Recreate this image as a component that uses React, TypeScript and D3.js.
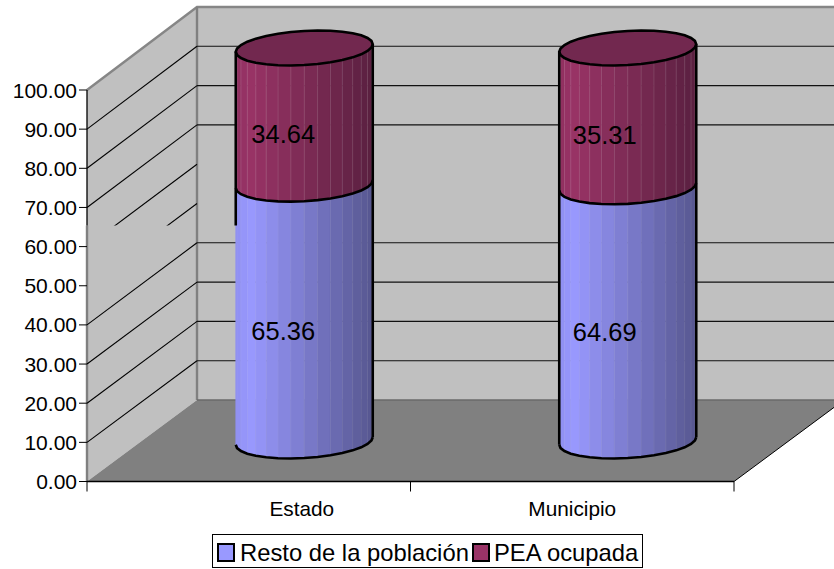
import React from 'react';
import * as d3 from 'd3';

const categories = ['Estado', 'Municipio'];
const seriesNames = ['Resto de la población', 'PEA ocupada'];
const restoValues = [65.36, 64.69];
const peaValues = [34.64, 35.31];
const yTicks = [0, 10, 20, 30, 40, 50, 60, 70, 80, 90, 100];

// 3D box of the old spreadsheet chart
const depthX = 110;
const frontLeft = 87;
const frontRight = 734;
const frontBottom = 481.5;
const frontTop = 90;
const backBottom = 400;
const backTop = 7;
const wallRight = frontRight + depthX;
const brokenY = 225.5; // the source picture loses some lines below this height
const brokenTicks = [50, 60];

const xBand = d3.scaleBand<string>().domain(categories).range([frontLeft, frontRight]);
const yFront = d3.scaleLinear().domain([0, 100]).range([frontBottom, frontTop]);
const yBack = d3.scaleLinear().domain([0, 100]).range([backBottom, backTop]);
const yBar = d3.scaleLinear().domain([0, 100]).range([441, 48]);

const barShift = 55.5;
const barWidth = 137;
const ellipseSkew = 15;
const ellipseRy = 17.5;
const ellipseRx = Math.sqrt((barWidth / 2) ** 2 - ellipseSkew ** 2);
const startAngle = Math.atan2(ellipseSkew, ellipseRx);
const facetCount = 16;
const labelShifts = [53, 0];
const valueLabelDx = [-21, -23];

const blueShade = d3.scaleLinear<string>().domain([0, 0.1, 1]).range(['#8e8ef0', '#9999ff', '#56568f']);
const maroonShade = d3.scaleLinear<string>().domain([0, 0.1, 1]).range(['#8e3060', '#993366', '#5a2040']);

const line = d3.line();

const ringPoint = (cx: number, cy: number, t: number): [number, number] => [
  cx + ellipseRx * Math.cos(t) + ellipseSkew * Math.sin(t),
  cy - ellipseRy * Math.sin(t),
];

const frontAngles = d3.range(facetCount + 1).map(i => startAngle + Math.PI + (i / facetCount) * Math.PI);
const ringAngles = d3.range(facetCount * 2).map(i => startAngle + (i / (facetCount * 2)) * Math.PI * 2);

function Segment({ cx, from, to, shade, seam }: { cx: number; from: number; to: number; shade: any; seam: number }) {
  const yTop = yBar(to);
  const yBottom = yBar(from);
  const bottomCurve = frontAngles.map(t => ringPoint(cx, yBottom, t));
  return (
    <g>
      {d3.pairs(frontAngles).map(([a, b], i) => {
        const p = [ringPoint(cx, yTop, a), ringPoint(cx, yTop, b), ringPoint(cx, yBottom, b), ringPoint(cx, yBottom, a)];
        const u = ((p[0][0] + p[1][0]) / 2 - (cx - barWidth / 2)) / barWidth;
        return <path key={i} d={line(p as [number, number][]) + 'Z'} fill={shade(u)} stroke={shade(u)} strokeWidth={0.6} />;
      })}
      {frontAngles.slice(1, -1).map((t, i) => (
        <line
          key={i}
          x1={ringPoint(cx, yTop, t)[0]}
          x2={ringPoint(cx, yTop, t)[0]}
          y1={ringPoint(cx, yTop, t)[1]}
          y2={ringPoint(cx, yBottom, t)[1]}
          stroke="#fff"
          strokeOpacity={seam}
          strokeWidth={0.8}
        />
      ))}
      <path d={line(bottomCurve) || ''} fill="none" stroke="#000" strokeWidth={2.6} />
    </g>
  );
}

function Bar({ category, index }: { category: string; index: number }) {
  const cx = (xBand(category) as number) + xBand.bandwidth() / 2 + barShift;
  const resto = restoValues[index];
  const pea = peaValues[index];
  const left = ringPoint(cx, yBar(100), frontAngles[0]);
  const leftBottom = ringPoint(cx, yBar(0), frontAngles[0]);
  const right = ringPoint(cx, yBar(100), frontAngles[facetCount]);
  const rightBottom = ringPoint(cx, yBar(0), frontAngles[facetCount]);
  const leftEnd = index === 0 ? brokenY : leftBottom[1];
  const ring = ringAngles.map(t => ringPoint(cx, yBar(100), t));
  return (
    <g>
      <Segment cx={cx} from={0} to={resto} shade={blueShade} seam={0.1} />
      <Segment cx={cx} from={resto} to={resto + pea} shade={maroonShade} seam={0.16} />
      <path d={line(ring) + 'Z'} fill="#72284f" stroke="#000" strokeWidth={2.6} />
      <line x1={left[0]} x2={left[0]} y1={left[1]} y2={leftEnd} stroke="#000" strokeWidth={2.6} />
      <line x1={right[0]} x2={right[0]} y1={right[1]} y2={rightBottom[1]} stroke="#000" strokeWidth={2.6} />
      <text x={cx + valueLabelDx[index]} y={yBar(resto / 2) + 18} fontSize={25.5} textAnchor="middle" dominantBaseline="central" fill="#000">
        {resto.toFixed(2)}
      </text>
      <text x={cx + valueLabelDx[index]} y={yBar(resto + pea / 2) + 18} fontSize={25.5} textAnchor="middle" dominantBaseline="central" fill="#000">
        {pea.toFixed(2)}
      </text>
    </g>
  );
}

export default function App() {
  const backLeft = frontLeft + depthX;
  const axisBreak = brokenY;
  return (
    <svg
      width={834}
      height={569}
      style={{ position: 'absolute', left: 0, top: 0, background: '#fff' }}
      fontFamily="'Liberation Sans', Arial, sans-serif"
    >
      <defs>
        <clipPath id="above-break">
          <rect x={0} y={0} width={834} height={brokenY} />
        </clipPath>
      </defs>

      {/* paredes y piso */}
      <rect x={backLeft} y={yBack(100)} width={wallRight - backLeft} height={backBottom - yBack(100)} fill="#c0c0c0" />
      <path
        d={line([[frontLeft, yFront(100)], [backLeft, yBack(100)], [backLeft, backBottom], [frontLeft, frontBottom]]) + 'Z'}
        fill="#c0c0c0"
      />
      <path
        d={line([[frontLeft, frontBottom], [backLeft, backBottom], [wallRight, backBottom], [frontRight, frontBottom]]) + 'Z'}
        fill="#808080"
      />
      <path
        d={line([[frontLeft, yFront(100)], [backLeft, yBack(100)], [wallRight, yBack(100)]]) || ''}
        fill="none"
        stroke="#868686"
        strokeWidth={2.4}
      />
      <line x1={backLeft} x2={backLeft} y1={yBack(100)} y2={backBottom} stroke="#808080" strokeWidth={2.4} />
      <line x1={frontLeft} x2={frontLeft} y1={axisBreak} y2={frontBottom} stroke="#808080" strokeWidth={2.4} />
      <line x1={backLeft} x2={wallRight} y1={backBottom} y2={backBottom} stroke="#6a6a6a" strokeWidth={1.5} />

      {/* rejilla */}
      {yTicks.slice(1, -1).map(t => {
        const broken = brokenTicks.includes(t);
        return (
          <g key={t}>
            <line
              x1={frontLeft}
              y1={yFront(t)}
              x2={backLeft}
              y2={yBack(t)}
              stroke="#000"
              strokeWidth={1.1}
              clipPath={broken ? 'url(#above-break)' : undefined}
            />
            {!broken && <line x1={backLeft} x2={wallRight} y1={yBack(t)} y2={yBack(t)} stroke="#111" strokeWidth={1.1} />}
          </g>
        );
      })}

      <line x1={frontRight} y1={frontBottom} x2={wallRight} y2={backBottom} stroke="#000" strokeWidth={1} />

      {/* ejes */}
      <line x1={frontLeft} x2={frontLeft} y1={yFront(100)} y2={axisBreak} stroke="#000" strokeWidth={1.3} />
      <line x1={frontLeft} x2={frontRight} y1={frontBottom} y2={frontBottom} stroke="#000" strokeWidth={1.6} />
      {yTicks.map(t => (
        <g key={t}>
          <line x1={frontLeft - 8} x2={frontLeft} y1={yFront(t)} y2={yFront(t)} stroke="#000" strokeWidth={1} />
          <text x={frontLeft - 10} y={yFront(t)} fontSize={21} textAnchor="end" dominantBaseline="central" fill="#000">
            {t.toFixed(2)}
          </text>
        </g>
      ))}
      {[frontLeft, ...categories.map(c => (xBand(c) as number) + xBand.bandwidth())].map(x => (
        <line key={x} x1={x} x2={x} y1={frontBottom} y2={frontBottom + 10} stroke="#000" strokeWidth={1} />
      ))}
      {categories.map((c, i) => (
        <text
          key={c}
          x={(xBand(c) as number) + xBand.bandwidth() / 2 + labelShifts[i]}
          y={508}
          fontSize={20.8}
          textAnchor="middle"
          dominantBaseline="central"
          fill="#000"
        >
          {c}
        </text>
      ))}

      {categories.map((c, i) => (
        <Bar key={c} category={c} index={i} />
      ))}

      {/* leyenda */}
      <rect x={212.5} y={534.5} width={430} height={33} fill="#fff" stroke="#000" strokeWidth={1} />
      <rect x={218} y={544} width={16} height={17} fill="#9999ff" stroke="#000" strokeWidth={2} />
      <text x={240} y={552} fontSize={23.8} dominantBaseline="central" fill="#000">
        {seriesNames[0]}
      </text>
      <rect x={473} y={544} width={16} height={17} fill="#993366" stroke="#000" strokeWidth={2} />
      <text x={494} y={552} fontSize={23.8} dominantBaseline="central" fill="#000">
        {seriesNames[1]}
      </text>
    </svg>
  );
}
